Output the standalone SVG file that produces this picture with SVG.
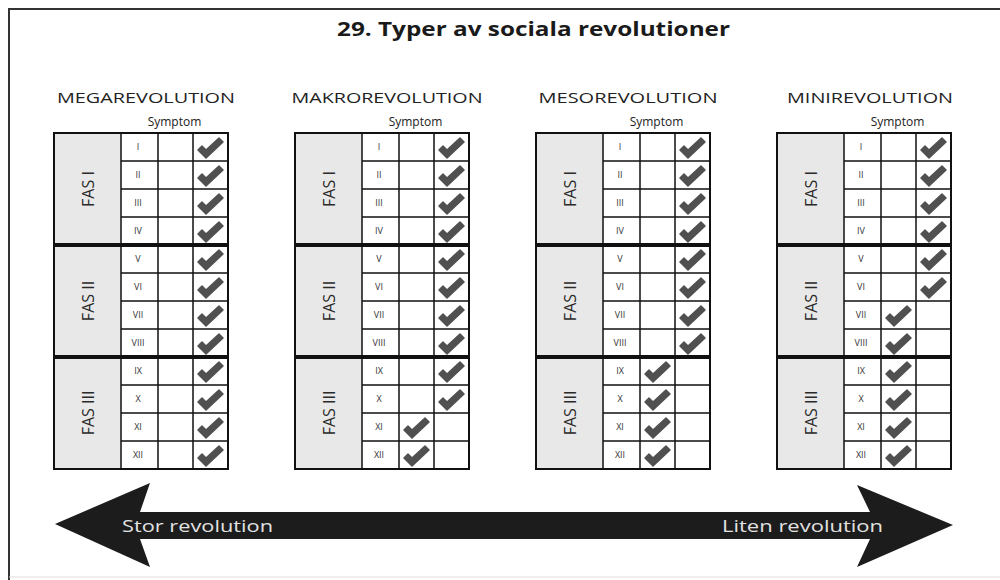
<svg xmlns="http://www.w3.org/2000/svg" xmlns:xlink="http://www.w3.org/1999/xlink" width="1000" height="580" viewBox="0 0 1000 580">
<style>
.title{font-family:"Open Sans","Liberation Sans",sans-serif;font-weight:bold;font-size:19px;fill:#1a1a1a}
.head{font-family:"Open Sans","Liberation Sans",sans-serif;font-size:15px;fill:#222;text-anchor:middle}
.sym{font-family:"Open Sans","Liberation Sans",sans-serif;font-size:12px;fill:#222;text-anchor:middle}
.fas{font-family:"Open Sans","Liberation Sans",sans-serif;font-size:16px;fill:#2a2a2a;text-anchor:middle;dominant-baseline:central}
.rn{font-family:"Open Sans","Liberation Sans",sans-serif;font-size:9px;fill:#333;text-anchor:middle}
.fascol{fill:#e8e8e8}
.thin{stroke:#111;stroke-width:1.5;fill:none}
.thick{stroke:#111;stroke-width:4;fill:none}
.outer{stroke:#111;stroke-width:2;fill:none}
.arrowtxt{font-family:"Open Sans","Liberation Sans",sans-serif;font-size:17px;fill:#e2e2e2;dominant-baseline:central}
</style>
<defs>
<path id="ck" d="M5,17 L9,13 L13,17 L26,5 L30,9 L13,25 Z" fill="#505050" stroke="#505050" stroke-width="1.5" stroke-linejoin="round"/>
<g id="grid">
<rect class="fascol" x="0" y="0" width="67" height="336"/>
<path class="thin" d="M67,28H174M67,56H174M67,84H174M67,140H174M67,168H174M67,196H174M67,252H174M67,280H174M67,308H174M67,0V336M104,0V336M139,0V336"/>
<path class="thick" d="M0,112H174M0,224H174"/>
<rect class="outer" x="0" y="0" width="174" height="336"/>
<text class="fas" transform="translate(33.5,56) rotate(-90)">FAS I</text>
<text class="fas" transform="translate(33.5,168) rotate(-90)">FAS II</text>
<text class="fas" transform="translate(33.5,280) rotate(-90)">FAS III</text>
<text class="rn" x="84" y="17">I</text>
<text class="rn" x="84" y="45">II</text>
<text class="rn" x="84" y="73">III</text>
<text class="rn" x="84" y="101">IV</text>
<text class="rn" x="84" y="129">V</text>
<text class="rn" x="84" y="157">VI</text>
<text class="rn" x="84" y="185">VII</text>
<text class="rn" x="84" y="213">VIII</text>
<text class="rn" x="84" y="241">IX</text>
<text class="rn" x="84" y="269">X</text>
<text class="rn" x="84" y="297">XI</text>
<text class="rn" x="84" y="325">XII</text>
<text class="sym" x="120.5" y="-7">Symptom</text>
</g>
</defs>
<g id="frame">
<path d="M9,580V9H1000" stroke="#333" stroke-width="2" fill="none"/>
<path d="M9,577H1000" stroke="#ddd" stroke-width="1" fill="none"/>
</g>
<text class="title" x="337" y="36" textLength="393" lengthAdjust="spacingAndGlyphs">29. Typer av sociala revolutioner</text>

<g id="megarevolution" transform="translate(54,133)">
<text class="head" x="92" y="-30" textLength="178" lengthAdjust="spacingAndGlyphs">MEGAREVOLUTION</text>
<use xlink:href="#grid"/>
<use xlink:href="#ck" x="139" y="0"/><use xlink:href="#ck" x="139" y="28"/><use xlink:href="#ck" x="139" y="56"/><use xlink:href="#ck" x="139" y="84"/>
<use xlink:href="#ck" x="139" y="112"/><use xlink:href="#ck" x="139" y="140"/><use xlink:href="#ck" x="139" y="168"/><use xlink:href="#ck" x="139" y="196"/>
<use xlink:href="#ck" x="139" y="224"/><use xlink:href="#ck" x="139" y="252"/><use xlink:href="#ck" x="139" y="280"/><use xlink:href="#ck" x="139" y="308"/>
</g>

<g id="makrorevolution" transform="translate(295,133)">
<text class="head" x="92" y="-30" textLength="191" lengthAdjust="spacingAndGlyphs">MAKROREVOLUTION</text>
<use xlink:href="#grid"/>
<use xlink:href="#ck" x="139" y="0"/><use xlink:href="#ck" x="139" y="28"/><use xlink:href="#ck" x="139" y="56"/><use xlink:href="#ck" x="139" y="84"/>
<use xlink:href="#ck" x="139" y="112"/><use xlink:href="#ck" x="139" y="140"/><use xlink:href="#ck" x="139" y="168"/><use xlink:href="#ck" x="139" y="196"/>
<use xlink:href="#ck" x="139" y="224"/><use xlink:href="#ck" x="139" y="252"/><use xlink:href="#ck" x="104" y="280"/><use xlink:href="#ck" x="104" y="308"/>
</g>

<g id="mesorevolution" transform="translate(536,133)">
<text class="head" x="92" y="-30" textLength="179" lengthAdjust="spacingAndGlyphs">MESOREVOLUTION</text>
<use xlink:href="#grid"/>
<use xlink:href="#ck" x="139" y="0"/><use xlink:href="#ck" x="139" y="28"/><use xlink:href="#ck" x="139" y="56"/><use xlink:href="#ck" x="139" y="84"/>
<use xlink:href="#ck" x="139" y="112"/><use xlink:href="#ck" x="139" y="140"/><use xlink:href="#ck" x="139" y="168"/><use xlink:href="#ck" x="139" y="196"/>
<use xlink:href="#ck" x="104" y="224"/><use xlink:href="#ck" x="104" y="252"/><use xlink:href="#ck" x="104" y="280"/><use xlink:href="#ck" x="104" y="308"/>
</g>

<g id="minirevolution" transform="translate(777,133)">
<text class="head" x="93" y="-30" textLength="166" lengthAdjust="spacingAndGlyphs">MINIREVOLUTION</text>
<use xlink:href="#grid"/>
<use xlink:href="#ck" x="139" y="0"/><use xlink:href="#ck" x="139" y="28"/><use xlink:href="#ck" x="139" y="56"/><use xlink:href="#ck" x="139" y="84"/>
<use xlink:href="#ck" x="139" y="112"/><use xlink:href="#ck" x="139" y="140"/><use xlink:href="#ck" x="104" y="168"/><use xlink:href="#ck" x="104" y="196"/>
<use xlink:href="#ck" x="104" y="224"/><use xlink:href="#ck" x="104" y="252"/><use xlink:href="#ck" x="104" y="280"/><use xlink:href="#ck" x="104" y="308"/>
</g>

<g id="connectors">
<polygon points="55,524 150,483 140,512 870,512 857,485 953,525 857,567 870,539 140,539 150,567" fill="#1c1c1c"/>
<text class="arrowtxt" x="122" y="525" textLength="151" lengthAdjust="spacingAndGlyphs">Stor revolution</text>
<text class="arrowtxt" x="722" y="525" textLength="161" lengthAdjust="spacingAndGlyphs">Liten revolution</text>
</g>
</svg>
